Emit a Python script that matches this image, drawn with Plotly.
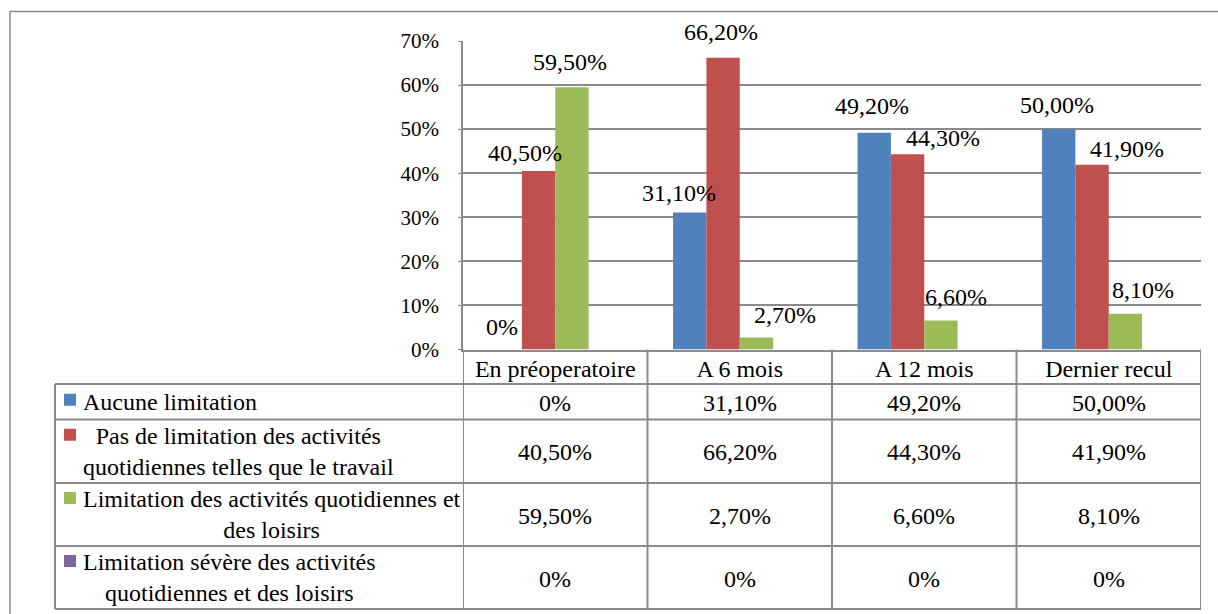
import plotly.graph_objects as go

# ---- data -------------------------------------------------------------
categories = ["En préoperatoire", "A 6 mois", "A 12 mois", "Dernier recul"]

series_names = [
    "Aucune limitation",
    "Pas de limitation des activités<br>quotidiennes telles que le travail",
    "Limitation des activités quotidiennes et<br>des loisirs",
    "Limitation sévère des activités<br>quotidiennes et des loisirs",
]
aucune_limitation = [0.0, 31.1, 49.2, 50.0]
pas_de_limitation = [40.5, 66.2, 44.3, 41.9]
limitation_activites = [59.5, 2.7, 6.6, 8.1]
limitation_severe = [0.0, 0.0, 0.0, 0.0]

y_ticks = [0, 10, 20, 30, 40, 50, 60, 70]
y_tick_labels = [f"{t}%" for t in y_ticks]

# ---- styling ----------------------------------------------------------
W, H = 1218, 614
COLORS = ["#4F81BD", "#C0504D", "#9BBB59", "#8064A2"]
GRID = "#8A8A8A"
FONT = "'Liberation Serif', Tinos, 'Times New Roman', 'DejaVu Serif', serif"
TXT = 24          # size of table text and value labels
TICK = 21         # size of the y tick labels
BARGAP = 0.277
SLOT = (1 - BARGAP) / 4

# nudges (px) of the chart's value labels away from their bar tops
LABEL_NUDGE = [
    [(-3, 23), (-11, 19), (-2, 27), (-2, 24)],
    [(-14, 18), (-2, 26), (35, 16), (35, 16)],
    [(-2, 25), (29, 23), (15, 23), (18, 24)],
]

ROW_EDGES = [384, 419.5, 483, 546, 609]   # table rows, px from top
HEADER_TOP = 349.5
LEFT_EDGE = 55


def px(x):
    return x / W


def py(y):
    return 1 - y / H


def fmt(v):
    return "0%" if v == 0 else f"{v:.2f}".replace(".", ",") + "%"


values = [aucune_limitation, pas_de_limitation, limitation_activites, limitation_severe]

fig = go.Figure()
for name, vals, color in zip(series_names, values, COLORS):
    fig.add_trace(go.Bar(
        x=categories, y=vals, name=name,
        marker=dict(color=color, line=dict(width=0)),
        hoverinfo="skip",
    ))

annotations = []

# value labels above the bars (the "sévère" series carries none)
for k, vals in enumerate(values[:3]):
    for i, v in enumerate(vals):
        dx, dy = LABEL_NUDGE[k][i]
        annotations.append(dict(
            x=i + (k - 1.5) * SLOT, y=v, xref="x", yref="y",
            text=fmt(v), showarrow=False, xanchor="center", yanchor="middle",
            xshift=dx, yshift=dy, font=dict(family=FONT, size=TXT, color="black"),
        ))

shapes = []
line_style = dict(color=GRID, width=2)

# data table below the plot
for r in range(4):
    top, bottom = ROW_EDGES[r], ROW_EDGES[r + 1]
    yc = (top + bottom) / 2
    n_lines = series_names[r].count("<br>") + 1
    annotations.append(dict(
        x=px(81), y=py(yc), xref="paper", yref="paper",
        text=series_names[r], showarrow=False, xanchor="left", yanchor="middle",
        align="center", font=dict(family=FONT, size=TXT, color="black"),
    ))
    sq_c = yc - (n_lines - 1) * 14.5 - 2
    shapes.append(dict(
        type="rect", xref="paper", yref="paper",
        x0=px(64), x1=px(76), y0=py(sq_c - 6), y1=py(sq_c + 6),
        fillcolor=COLORS[r], line=dict(width=0),
    ))
    for i, v in enumerate(values[r]):
        annotations.append(dict(
            x=i, y=py(yc + 1), xref="x", yref="paper",
            text=fmt(v), showarrow=False, xanchor="center", yanchor="middle",
            font=dict(family=FONT, size=TXT, color="black"),
        ))

# table grid: column borders follow the category boundaries of the x axis
for b in [-0.5, 0.5, 1.5, 2.5, 3.5]:
    shapes.append(dict(type="line", xref="x", yref="paper",
                       x0=b, x1=b, y0=py(HEADER_TOP), y1=py(ROW_EDGES[-1]),
                       line=line_style))
shapes.append(dict(type="line", xref="paper", yref="paper",
                   x0=px(LEFT_EDGE), x1=px(LEFT_EDGE),
                   y0=py(ROW_EDGES[0]), y1=py(ROW_EDGES[-1]), line=line_style))
for e in ROW_EDGES:
    shapes.append(dict(type="line", xref="paper", yref="paper",
                       x0=px(LEFT_EDGE), x1=px(1201), y0=py(e), y1=py(e),
                       line=line_style))

# outer frame of the figure (open to the right and bottom)
shapes.append(dict(type="line", xref="paper", yref="paper",
                   x0=px(10), x1=1, y0=py(11.5), y1=py(11.5),
                   line=dict(color=GRID, width=1.5)))
shapes.append(dict(type="line", xref="paper", yref="paper",
                   x0=px(10), x1=px(10), y0=py(11.5), y1=0,
                   line=dict(color=GRID, width=1.5)))

fig.update_layout(
    template="none",
    width=W, height=H, autosize=False,
    margin=dict(l=0, r=0, t=0, b=0, pad=0),
    paper_bgcolor="white", plot_bgcolor="white",
    barmode="group", bargap=BARGAP, bargroupgap=0,
    showlegend=False,
    font=dict(family=FONT, size=TXT, color="black"),
    annotations=annotations,
    shapes=shapes,
    xaxis=dict(
        domain=[px(463), px(1201)], type="category", range=[-0.5, 3.5],
        showline=True, linecolor=GRID, linewidth=2, automargin=False,
        showgrid=False, ticks="", tickfont=dict(family=FONT, size=TXT, color="black"),
        ticklabelstandoff=-3, fixedrange=True,
    ),
    yaxis=dict(
        domain=[py(HEADER_TOP), py(41)], range=[0, 70], automargin=False,
        tickmode="array", tickvals=y_ticks, ticktext=y_tick_labels,
        showgrid=True, gridcolor=GRID, gridwidth=1.5,
        showline=True, linecolor=GRID, linewidth=1.5,
        ticks="outside", ticklen=3, tickcolor=GRID,
        zeroline=False, tickfont=dict(family=FONT, size=TICK, color="black"),
        ticklabelstandoff=15, fixedrange=True,
    ),
)

fig.write_html("out.html", config={"responsive": False, "displayModeBar": False})
